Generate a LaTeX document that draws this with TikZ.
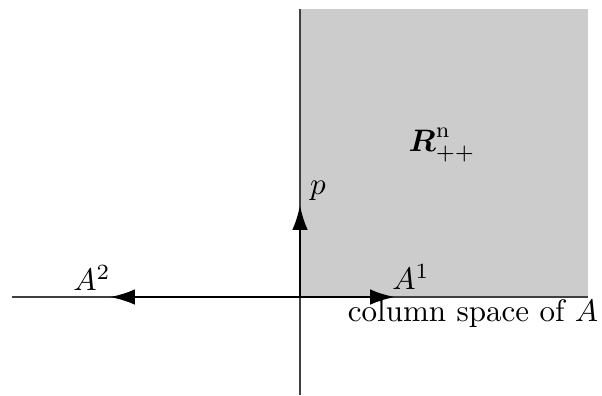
\documentclass[tikz,border=0pt]{standalone}
\usepackage{amsmath,amssymb}
\usetikzlibrary{arrows.meta,positioning}

\begin{document}
\begin{tikzpicture}[x=0.322pt,y=0.322pt,
  axis/.style={line width=0.45pt, black!75},
  vec/.style={line width=0.85pt, -{Latex[length=8pt,width=5pt]}},
  every node/.style={inner sep=1pt}]
\useasboundingbox (-300,-98) rectangle (302,297);
\fill[black!20] (0,0) rectangle (288,288);
\coordinate (o) at (0,0);
\coordinate (top) at (0,288);
\coordinate (bot) at (0,-98);
\coordinate (left) at (-288,0);
\coordinate (right) at (288,0);
\draw[axis] (bot) -- (top);
\draw[axis] (left) -- (right);
\coordinate (p) at (0,92);
\coordinate (a1) at (95,0);
\coordinate (a2) at (-190,0);
\draw[vec] (o) -- (p);
\draw[vec] (o) -- (a1);
\draw[vec] (o) -- (a2);
\node (plab) at (18,106) {$p$};
\node (a1lab) at (111,20) {$A^1$};
\node (a2lab) at (-208,19) {$A^2$};
\node (rlab) at (142,152) {$\boldsymbol{R}^{\mathrm{n}}_{++}$};
\node (col) at (173,-17) {column space of $A$};
\end{tikzpicture}
\end{document}
